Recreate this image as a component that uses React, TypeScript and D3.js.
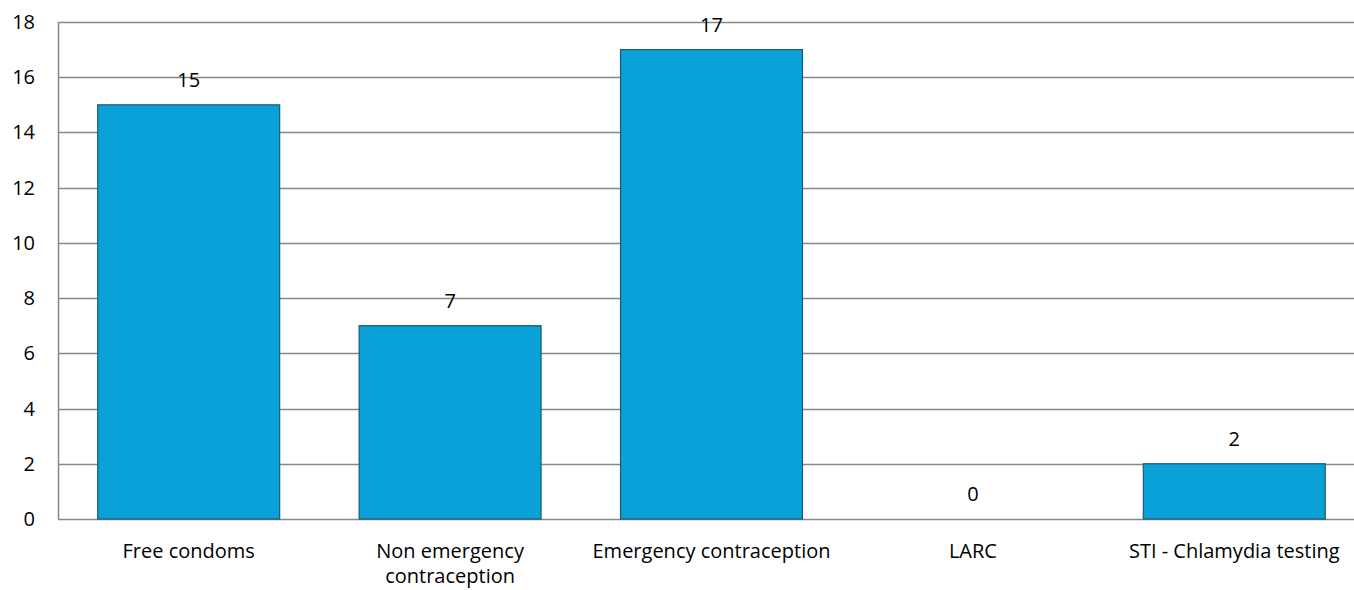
import React from "react";
import * as d3 from "d3";

const categories = ["Free condoms", "Non emergency contraception", "Emergency contraception", "LARC", "STI - Chlamydia testing"];
const categoryLines = [["Free condoms"], ["Non emergency", "contraception"], ["Emergency contraception"], ["LARC"], ["STI - Chlamydia testing"]];
const values = [15, 7, 17, 0, 2];
const yTicks = [0, 2, 4, 6, 8, 10, 12, 14, 16, 18];

const W = 1354;
const H = 590;
const left = 58;
const right = 1365;
const top = 22;
const bottom = 519;
const font = "Open Sans, sans-serif";
const fs = 20;

export default function App() {
  const x = d3.scaleBand<string>().domain(categories).range([left, right]).paddingInner(0.304).paddingOuter(0.152);
  const y = d3.scaleLinear().domain([0, 18]).range([bottom, top]);
  return (
    <svg width={W} height={H} style={{ position: "absolute", left: 0, top: 0 }}>
      <rect width={W} height={H} fill="#fff" />
      {yTicks.map((t) => (
        <g key={t}>
          <line x1={left} x2={right} y1={Math.round(y(t)) + 0.5} y2={Math.round(y(t)) + 0.5} stroke="#888" strokeWidth={1.5} />
          <text x={35} y={y(t)} dy="0.35em" textAnchor="end" fontFamily={font} fontSize={fs} fill="#000">{t}</text>
        </g>
      ))}
      <line x1={left + 0.5} x2={left + 0.5} y1={top} y2={bottom} stroke="#888" strokeWidth={1.5} />
      {categories.map((c, i) => {
        const bx = x(c)!;
        const bw = x.bandwidth();
        const v = values[i];
        return (
          <g key={c}>
            {v > 0 && (
              <rect x={bx} y={y(v)} width={bw} height={bottom - y(v)} fill="#0aa1d9" stroke="#1b5a73" strokeWidth={1.2} />
            )}
            <text x={bx + bw / 2} y={y(v) - 25} dy="0.35em" textAnchor="middle" fontFamily={font} fontSize={fs} fill="#000">{v}</text>
            {categoryLines[i].map((ln, j) => (
              <text key={j} x={bx + bw / 2} y={551 + j * 24.5} dy="0.35em" textAnchor="middle" fontFamily={font} fontSize={fs} fill="#000">{ln}</text>
            ))}
          </g>
        );
      })}
    </svg>
  );
}
